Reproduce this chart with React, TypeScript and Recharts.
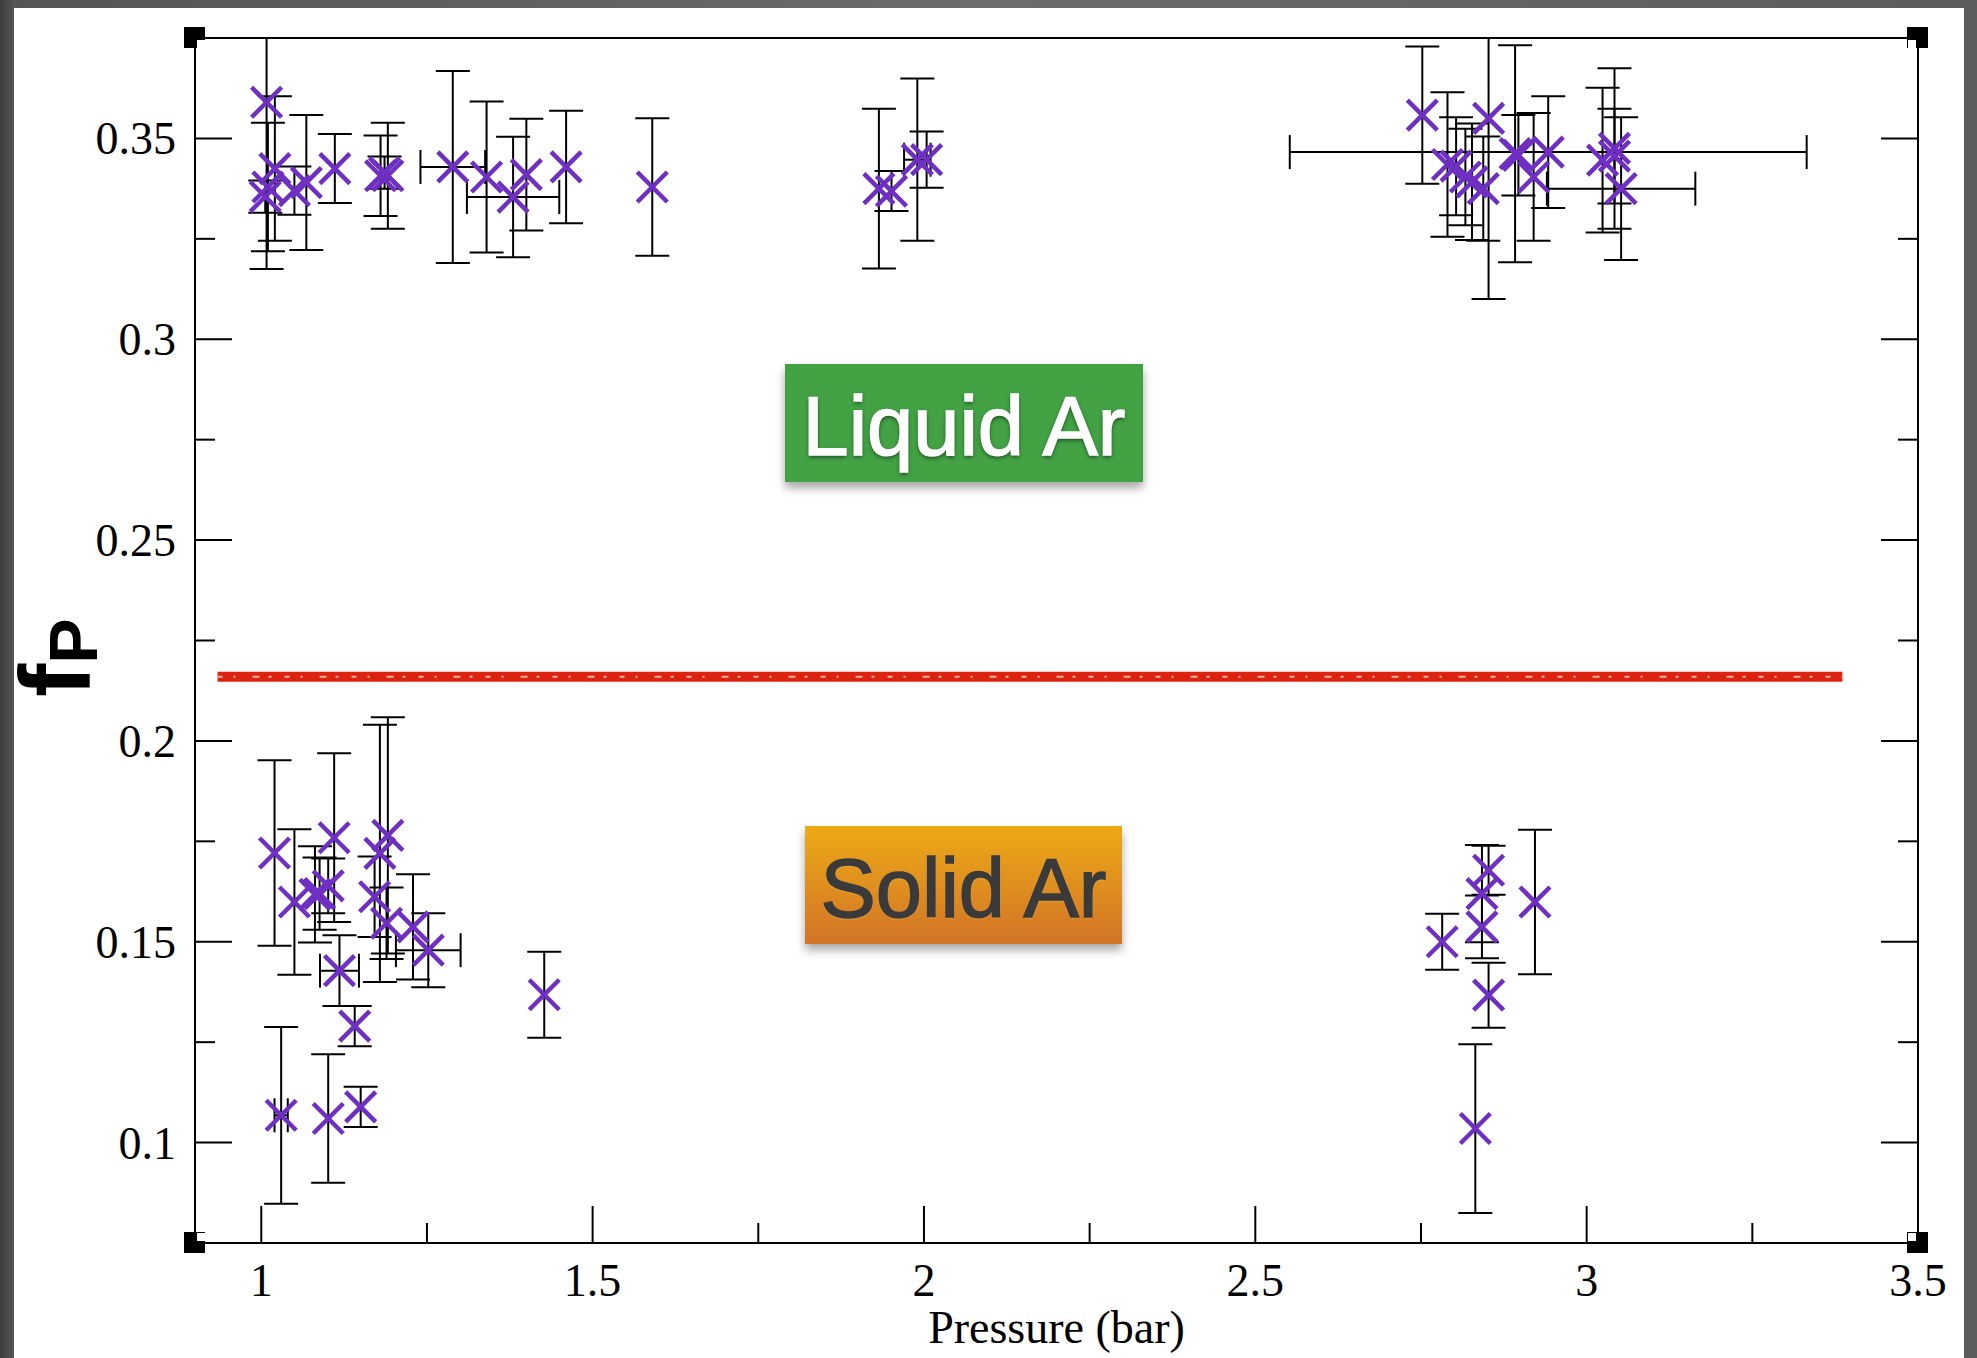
import React from "react";
import {
  ScatterChart,
  Scatter,
  XAxis,
  YAxis,
  ErrorBar,
  ReferenceLine,
} from "recharts";

// liquid argon points (upper band)
const liquidPressure = [
  1.008, 1.0205, 1.01, 1.006, 1.05, 1.068, 1.111, 1.18, 1.191, 1.186,
  1.289, 1.34, 1.38, 1.4, 1.46, 1.59, 1.932, 1.951, 1.99, 2.004,
  2.752, 2.79, 2.803, 2.817, 2.827, 2.844, 2.852, 2.892, 2.897, 2.92,
  2.942, 3.024, 3.042, 3.042, 3.052,
];
const liquidFp = [
  0.359, 0.3425, 0.3379, 0.3355, 0.337, 0.339, 0.3425, 0.3407, 0.3407, 0.3415,
  0.3429, 0.3404, 0.3354, 0.341, 0.3429, 0.3379, 0.3375, 0.3369, 0.3447, 0.3447,
  0.3558, 0.3435, 0.3431, 0.3404, 0.3392, 0.3375, 0.355, 0.3462, 0.3458, 0.3404,
  0.3466, 0.3446, 0.3475, 0.3456, 0.3375,
];
const liquidFpErr = [
  0.0415, 0.018, 0.016, 0.004, 0.006, 0.0168, 0.0086, 0.01, 0.0132, 0.004,
  0.0239, 0.0188, 0.015, 0.0139, 0.014, 0.0171, 0.0199, 0.005, 0.0202, 0.007,
  0.0171, 0.018, 0.0122, 0.012, 0.0145, 0.013, 0.045, 0.027, 0.01, 0.0159,
  0.0139, 0.018, 0.02, 0.0118, 0.0178,
];
const liquidPressureErr = [
  0, 0, 0, 0, 0, 0, 0, 0, 0, 0,
  0.0488, 0, 0.0697, 0, 0, 0, 0, 0, 0.02, 0,
  0, 0, 0, 0, 0, 0, 0, 0, 0, 0,
  0.39, 0, 0, 0, 0.112,
];

// solid argon points (lower band)
const solidPressure = [
  1.02, 1.05, 1.081, 1.088, 1.101, 1.11, 1.118, 1.141, 1.03, 1.101,
  1.15, 1.191, 1.179, 1.171, 1.189, 1.229, 1.252, 1.427, 2.782, 2.852,
  2.842, 2.842, 2.852, 2.922, 2.832,
];
const solidFp = [
  0.1721, 0.1599, 0.1618, 0.162, 0.1639, 0.1759, 0.1428, 0.129, 0.1068, 0.106,
  0.1089, 0.1765, 0.172, 0.1612, 0.1546, 0.1537, 0.1479, 0.1368, 0.15, 0.1678,
  0.162, 0.1537, 0.1367, 0.1599, 0.1035,
];
const solidFpErr = [
  0.0231, 0.0181, 0.012, 0.009, 0.0068, 0.021, 0.0088, 0.005, 0.022, 0.016,
  0.005, 0.0294, 0.032, 0.01, 0.0089, 0.0131, 0.0092, 0.0107, 0.007, 0.0061,
  0.0121, 0.0078, 0.0081, 0.018, 0.021,
];
const solidPressureErr = [
  0, 0, 0, 0, 0, 0, 0.0294, 0, 0.01, 0,
  0, 0, 0, 0, 0, 0, 0.0488, 0, 0, 0,
  0, 0, 0, 0, 0,
];

const pressureTicks = [1, 1.25, 1.5, 1.75, 2, 2.25, 2.5, 2.75, 3, 3.25, 3.5];
const fpTicks = [0.1, 0.125, 0.15, 0.175, 0.2, 0.225, 0.25, 0.275, 0.3, 0.325, 0.35];
const pressureDomain = [0.9, 3.5];
const fpDomain = [0.075, 0.375];

// liquid/solid boundary
const boundaryFp = 0.216;
const boundaryPressure = [0.934, 3.386];

const W = 1977;
const H = 1358;
const PLOT = { left: 195, right: 1918, top: 38, bottom: 1243 };

const SERIF = "'Liberation Serif', 'Times New Roman', serif";
const SANS = "'Liberation Sans', Arial, Helvetica, sans-serif";
const PURPLE = "#6E2FC2";
const BG = "linear-gradient(to right, #3c3c3c 0px, #555 14px, #6c6c6c 50%, #5c5c5c 100%)";

const toRows = (p: number[], f: number[], fe: number[], pe: number[]) =>
  p.map((v, i) => ({ p: v, f: f[i], fErr: fe[i], pErr: pe[i] || undefined }));

const liquidRows = toRows(liquidPressure, liquidFp, liquidFpErr, liquidPressureErr);
const solidRows = toRows(solidPressure, solidFp, solidFpErr, solidPressureErr);

const isMajor = (v: number, step: number) =>
  Math.abs(v / step - Math.round(v / step)) < 1e-6;

const BottomTick = (props: any) => {
  const { x, y, payload } = props;
  const major = isMajor(payload.value, 0.5);
  return (
    <g>
      <line x1={x} y1={y} x2={x} y2={y - (major ? 37 : 20)} stroke="#000" strokeWidth={2} />
      {major && (
        <text x={x} y={y + 53} textAnchor="middle" fontFamily={SERIF} fontSize={46} fill="#000">
          {String(payload.value)}
        </text>
      )}
    </g>
  );
};

const TopTick = (props: any) => {
  const { x, y, payload } = props;
  const major = isMajor(payload.value, 0.5);
  return <line x1={x} y1={y} x2={x} y2={y + (major ? 37 : 20)} stroke="#000" strokeWidth={2} />;
};

const LeftTick = (props: any) => {
  const { x, y, payload } = props;
  const major = isMajor(payload.value, 0.05);
  return (
    <g>
      <line x1={x} y1={y} x2={x + (major ? 37 : 20)} y2={y} stroke="#000" strokeWidth={2} />
      {major && (
        <text x={x - 19} y={y + 16} textAnchor="end" fontFamily={SERIF} fontSize={46} fill="#000">
          {String(payload.value)}
        </text>
      )}
    </g>
  );
};

const RightTick = (props: any) => {
  const { x, y, payload } = props;
  const major = isMajor(payload.value, 0.05);
  return <line x1={x} y1={y} x2={x - (major ? 37 : 20)} y2={y} stroke="#000" strokeWidth={2} />;
};

const XMark = (props: any) => {
  const { cx, cy } = props;
  if (cx == null || cy == null) return null;
  const s = 15;
  return (
    <g>
      <line x1={cx - s} y1={cy - s} x2={cx + s} y2={cy + s} stroke={PURPLE} strokeWidth={4.5} />
      <line x1={cx - s} y1={cy + s} x2={cx + s} y2={cy - s} stroke={PURPLE} strokeWidth={4.5} />
    </g>
  );
};

const Corner = ({ x, y, dx, dy }: { x: number; y: number; dx: number; dy: number }) => (
  <g>
    <rect x={x - 11} y={y - 11} width={21} height={21} fill="#000" />
    <rect x={dx > 0 ? x + 2 : x - 10} y={dy > 0 ? y + 2 : y - 10} width={8} height={8} fill="#fff" />
  </g>
);

const boundarySegment = [
  { x: boundaryPressure[0], y: boundaryFp },
  { x: boundaryPressure[1], y: boundaryFp },
];

export default function App() {
  return (
    <div
      style={{
        position: "absolute",
        left: 0,
        top: 0,
        width: W,
        height: H,
        overflow: "hidden",
        background: BG,
      }}
    >
      <div style={{ position: "absolute", left: 14, top: 8, width: 1950, height: H, background: "#fff" }} />
      <div style={{ position: "absolute", left: 0, top: 0 }}>
        <ScatterChart
          width={W}
          height={H}
          margin={{ top: 28, right: 49, bottom: 55, left: 95 }}
        >
          <XAxis
            xAxisId="bottom"
            dataKey="p"
            type="number"
            orientation="bottom"
            domain={pressureDomain}
            ticks={pressureTicks}
            interval={0}
            allowDataOverflow
            height={60}
            tickSize={0}
            tickMargin={0}
            tickLine={false}
            tick={<BottomTick />}
            axisLine={{ stroke: "#000", strokeWidth: 2 }}
            label={(lp: any) => {
              const vb = lp.viewBox || { x: PLOT.left, y: PLOT.bottom, width: PLOT.right - PLOT.left };
              return (
                <text
                  x={vb.x + vb.width / 2}
                  y={vb.y + 100}
                  textAnchor="middle"
                  fontFamily={SERIF}
                  fontSize={46}
                  fill="#000"
                >
                  Pressure (bar)
                </text>
              );
            }}
          />
          <XAxis
            xAxisId="top"
            type="number"
            orientation="top"
            domain={pressureDomain}
            ticks={pressureTicks}
            interval={0}
            allowDataOverflow
            height={10}
            tickSize={0}
            tickMargin={0}
            tickLine={false}
            tick={<TopTick />}
            axisLine={{ stroke: "#000", strokeWidth: 2 }}
          />
          <YAxis
            yAxisId="left"
            dataKey="f"
            type="number"
            orientation="left"
            domain={fpDomain}
            ticks={fpTicks}
            interval={0}
            allowDataOverflow
            width={100}
            tickSize={0}
            tickMargin={0}
            tickLine={false}
            tick={<LeftTick />}
            axisLine={{ stroke: "#000", strokeWidth: 2 }}
          />
          <YAxis
            yAxisId="right"
            type="number"
            orientation="right"
            domain={fpDomain}
            ticks={fpTicks}
            interval={0}
            allowDataOverflow
            width={10}
            tickSize={0}
            tickMargin={0}
            tickLine={false}
            tick={<RightTick />}
            axisLine={{ stroke: "#000", strokeWidth: 2 }}
          />
          <ReferenceLine
            xAxisId="bottom"
            yAxisId="left"
            segment={boundarySegment}
            stroke="#DB2310"
            strokeWidth={10}
          />
          <ReferenceLine
            xAxisId="bottom"
            yAxisId="left"
            segment={boundarySegment}
            stroke="#F5B0A0"
            strokeWidth={2}
            strokeDasharray="5 11 2 17 7 9 3 13"
          />
          <Scatter
            name="Liquid Ar"
            data={liquidRows}
            xAxisId="bottom"
            yAxisId="left"
            shape={<XMark />}
            isAnimationActive={false}
          >
            <ErrorBar dataKey="fErr" direction="y" width={17} stroke="#000" strokeWidth={2} />
            <ErrorBar dataKey="pErr" direction="x" width={17} stroke="#000" strokeWidth={2} />
          </Scatter>
          <Scatter
            name="Solid Ar"
            data={solidRows}
            xAxisId="bottom"
            yAxisId="left"
            shape={<XMark />}
            isAnimationActive={false}
          >
            <ErrorBar dataKey="fErr" direction="y" width={17} stroke="#000" strokeWidth={2} />
            <ErrorBar dataKey="pErr" direction="x" width={17} stroke="#000" strokeWidth={2} />
          </Scatter>
        </ScatterChart>
      </div>
      {/* hide error bars running past the top frame */}
      <div style={{ position: "absolute", left: 0, top: 0, width: W, height: 8, background: BG }} />
      <svg
        width={W}
        height={H}
        style={{ position: "absolute", left: 0, top: 0, pointerEvents: "none" }}
      >
        <rect x={PLOT.left + 2} y={8} width={PLOT.right - PLOT.left - 4} height={PLOT.top - 9} fill="#fff" />
        <Corner x={PLOT.left} y={PLOT.top} dx={1} dy={1} />
        <Corner x={PLOT.right} y={PLOT.top} dx={-1} dy={1} />
        <Corner x={PLOT.left} y={PLOT.bottom} dx={1} dy={-1} />
        <Corner x={PLOT.right} y={PLOT.bottom} dx={-1} dy={-1} />
        <text
          x={90}
          y={697}
          transform="rotate(-90, 90, 697)"
          fontFamily={SANS}
          fontWeight="bold"
          fontSize={100}
          fill="#000"
        >
          f
          <tspan fontSize={68} dy={7}>
            P
          </tspan>
        </text>
      </svg>
      <div
        style={{
          position: "absolute",
          left: 785,
          top: 364,
          width: 358,
          height: 118,
          boxSizing: "border-box",
          paddingTop: 15,
          background: "#42A244",
          boxShadow: "0 6px 9px rgba(0,0,0,0.35)",
          color: "#fff",
          fontFamily: SANS,
          fontSize: 83,
          lineHeight: "96px",
          textAlign: "center",
          whiteSpace: "nowrap",
          WebkitTextStroke: "1.5px #fff",
          textShadow: "0 2px 4px rgba(0,0,0,0.6)",
        }}
      >
        Liquid Ar
      </div>
      <div
        style={{
          position: "absolute",
          left: 805,
          top: 826,
          width: 317,
          height: 118,
          boxSizing: "border-box",
          paddingTop: 15,
          background: "linear-gradient(to bottom, #EDAA16, #D27427)",
          boxShadow: "0 6px 9px rgba(0,0,0,0.35)",
          color: "#3A3A3A",
          fontFamily: SANS,
          fontSize: 83,
          lineHeight: "96px",
          textAlign: "center",
          whiteSpace: "nowrap",
          WebkitTextStroke: "1.5px #3A3A3A",
          textShadow: "0 1px 2px rgba(255,220,150,0.5)",
        }}
      >
        Solid Ar
      </div>
    </div>
  );
}
